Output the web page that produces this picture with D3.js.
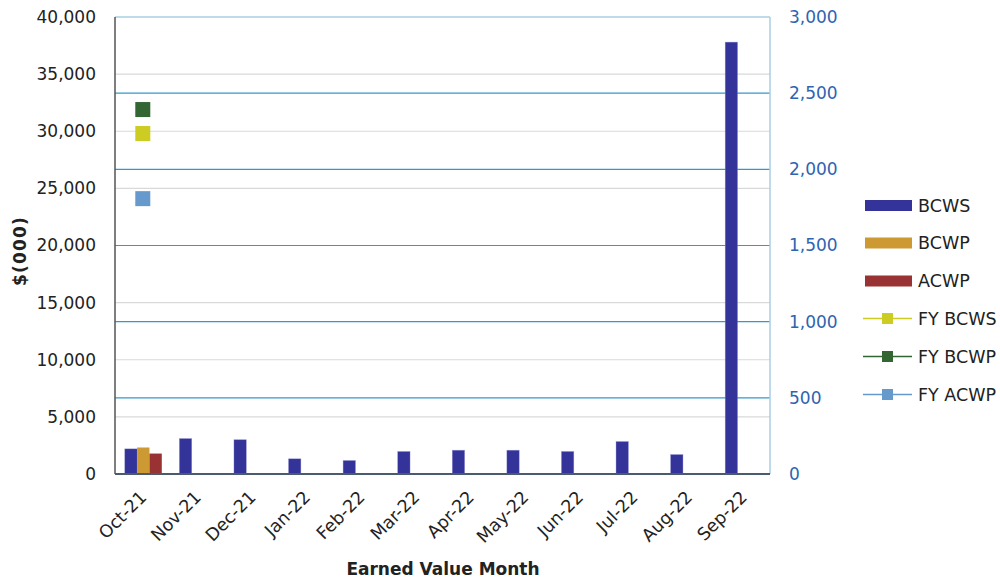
<!DOCTYPE html>
<html><head><meta charset="utf-8">
<script src="https://cdn.jsdelivr.net/npm/d3@7"></script>
<style>body{margin:0;background:#fff}svg{display:block;font-family:"DejaVu Sans",Verdana,sans-serif}</style>
</head><body><svg id="c" width="1000" height="582"></svg>
<script>
const months = ["Oct-21","Nov-21","Dec-21","Jan-22","Feb-22","Mar-22","Apr-22","May-22","Jun-22","Jul-22","Aug-22","Sep-22"];
const bcws = [2200,3100,3000,1330,1180,1970,2080,2080,1970,2840,1700,37800];
const bcwp = [2320,null,null,null,null,null,null,null,null,null,null,null];
const acwp = [1790,null,null,null,null,null,null,null,null,null,null,null];
const fyBcws = [29800,null,null,null,null,null,null,null,null,null,null,null];
const fyBcwp = [31900,null,null,null,null,null,null,null,null,null,null,null];
const fyAcwp = [24100,null,null,null,null,null,null,null,null,null,null,null];
const leftTicks = [0,5000,10000,15000,20000,25000,30000,35000,40000];
const rightTicks = [0,500,1000,1500,2000,2500,3000];

const svg = d3.select("#c");
const L=115,R=770,T=17,B=474;
const x = d3.scaleBand().domain(months).range([L,R]).paddingInner(0).paddingOuter(0);
const inner = d3.scaleBand().domain(["BCWS","BCWP","ACWP"]).range([0,37]);
const y = d3.scaleLinear().domain([0,40000]).range([B,T]);
const y2 = d3.scaleLinear().domain([0,3000]).range([B,T]);

// gridlines (left)
svg.append("g").selectAll("line").data(leftTicks.filter(d=>d>0&&d<40000)).join("line")
  .attr("x1",L).attr("x2",R).attr("y1",d=>y(d)).attr("y2",d=>y(d))
  .attr("stroke","#d9d9d9").attr("stroke-width",1.2);
// gridlines (right)
svg.append("g").selectAll("line").data(rightTicks.filter(d=>d>0&&d<3000)).join("line")
  .attr("x1",L).attr("x2",R).attr("y1",d=>y2(d)).attr("y2",d=>y2(d))
  .attr("stroke","#3797cc").attr("stroke-width",1.2);
svg.append("line").attr("x1",L).attr("x2",R).attr("y1",T).attr("y2",T).attr("stroke","#a9cfe6").attr("stroke-width",1.5);

// bars
const series = [["BCWS",bcws,"#333399"],["BCWP",bcwp,"#cc9933"],["ACWP",acwp,"#993333"]];
const gx0 = d=>x(d)+(x.bandwidth()-37)/2 + 1;
series.forEach(([name,vals,col])=>{
  svg.append("g").selectAll("rect").data(months.map((m,i)=>({m,v:vals[i]})).filter(d=>d.v!=null)).join("rect")
    .attr("x",d=>gx0(d.m)+inner(name)).attr("width",inner.bandwidth())
    .attr("y",d=>y(d.v)).attr("height",d=>B-y(d.v))
    .attr("fill",col).attr("stroke","#8a8ad0").attr("stroke-width",name==="BCWS"?0.6:0).attr("stroke-opacity",0.6);
});

// markers
const lines = [["FY BCWS",fyBcws,"#cccc22"],["FY BCWP",fyBcwp,"#336633"],["FY ACWP",fyAcwp,"#6699cc"]];
lines.forEach(([name,vals,col])=>{
  svg.append("g").selectAll("rect").data(months.map((m,i)=>({m,v:vals[i]})).filter(d=>d.v!=null)).join("rect")
    .attr("x",d=>x(d.m)+x.bandwidth()/2-7.5+0.5).attr("y",d=>y(d.v)-7.5).attr("width",15).attr("height",15).attr("fill",col);
});

// axes lines
svg.append("line").attr("x1",L).attr("x2",L).attr("y1",T).attr("y2",B).attr("stroke","#555").attr("stroke-width",1.5);
svg.append("line").attr("x1",R).attr("x2",R).attr("y1",T).attr("y2",B).attr("stroke","#a9cfe6").attr("stroke-width",1.5);
svg.append("line").attr("x1",L).attr("x2",R).attr("y1",B).attr("y2",B).attr("stroke","#4a5b6b").attr("stroke-width",2);

const fmt = d3.format(",");
// left labels
svg.append("g").selectAll("text").data(leftTicks).join("text")
  .attr("x",96).attr("y",d=>y(d)).attr("dy","0.35em").attr("text-anchor","end")
  .attr("font-size",17).attr("fill","#222").text(d=>fmt(d));
// right labels
svg.append("g").selectAll("text").data(rightTicks).join("text")
  .attr("x",789).attr("y",d=>y2(d)).attr("dy","0.35em").attr("text-anchor","start")
  .attr("font-size",17).attr("fill","#2e64b0").text(d=>fmt(d));
// x labels
svg.append("g").selectAll("text").data(months).join("text")
  .attr("transform",d=>`translate(${x(d)+x.bandwidth()/2+1},${494}) rotate(-45)`)
  .attr("dy","0.35em").attr("text-anchor","end").attr("font-size",17.5).attr("fill","#222").text(d=>d);

// titles
svg.append("text").attr("transform","translate(20,251) rotate(-90)").attr("dy","0.35em").attr("text-anchor","middle")
  .attr("font-size",17).attr("letter-spacing",1.2).attr("font-weight","bold").attr("fill","#222").text("$(000)");
svg.append("text").attr("x",443).attr("y",569).attr("dy","0.35em").attr("text-anchor","middle")
  .attr("font-size",17).attr("font-weight","bold").attr("fill","#222").text("Earned Value Month");

// legend
const legY = [205.5,243,281,318.5,356.5,394.5];
const leg = svg.append("g");
series.forEach(([name,vals,col],i)=>{
  leg.append("rect").attr("x",865).attr("y",legY[i]-5.5).attr("width",47).attr("height",11).attr("fill",col);
  leg.append("text").attr("x",918).attr("y",legY[i]).attr("dy","0.35em").attr("font-size",17.5).attr("fill","#222").text(name);
});
lines.forEach(([name,vals,col],j)=>{
  const i=j+3;
  leg.append("line").attr("x1",863).attr("x2",912).attr("y1",legY[i]).attr("y2",legY[i]).attr("stroke",col).attr("stroke-width",1.5);
  leg.append("rect").attr("x",882).attr("y",legY[i]-5.5).attr("width",11).attr("height",11).attr("fill",col);
  leg.append("text").attr("x",918).attr("y",legY[i]).attr("dy","0.35em").attr("font-size",17.5).attr("fill","#222").text(name);
});
</script></body></html>
